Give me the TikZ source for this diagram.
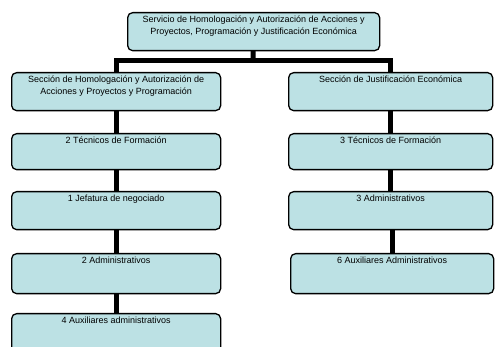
\documentclass[tikz,border=0pt]{standalone}
\usepackage{fontspec}
\setmainfont{Liberation Sans}
\usetikzlibrary{backgrounds}
\definecolor{boxblue}{RGB}{188,225,228}
\newcommand{\boxtext}[3]{\parbox[c][#2pt][t]{#1pt}{\centering\vspace*{3pt}#3\par}}
\tikzset{
  orgbox/.style={draw=black, line width=1.3pt, rounded corners=5pt, fill=boxblue,
    inner sep=0pt, anchor=north west, font=\fontsize{9}{12.5}\selectfont},
  conn/.style={line width=5pt, black}
}
\begin{document}
\begin{tikzpicture}[x=1pt,y=-1pt]
\useasboundingbox (0,0) rectangle (496,347);
\begin{scope}
\clip (0,0) rectangle (496,347);
% boxes
\node[orgbox] (top) at (127,12) {\boxtext{252}{38}{Servicio de Homologación y Autorización de Acciones y\\Proyectos, Programación y Justificación Económica}};
\node[orgbox] (L1) at (11,72) {\boxtext{209}{38}{Sección de Homologación y Autorización de\\Acciones y Proyectos y Programación}};
\node[orgbox] (L2) at (11,133) {\boxtext{209}{36}{2 Técnicos de Formación}};
\node[orgbox] (L3) at (11,191) {\boxtext{209}{38}{1 Jefatura de negociado}};
\node[orgbox] (L4) at (11,253) {\boxtext{209}{40}{2 Administrativos}};
\node[orgbox] (L5) at (11,313) {\boxtext{209}{40}{4 Auxiliares administrativos}};
\node[orgbox] (R1) at (288,72) {\boxtext{204}{38}{Sección de Justificación Económica}};
\node[orgbox] (R2) at (288,133) {\boxtext{204}{36}{3 Técnicos de Formación}};
\node[orgbox] (R3) at (288,191) {\boxtext{204}{38}{3 Administrativos}};
\node[orgbox] (R4) at (290,253) {\boxtext{203}{40}{6 Auxiliares Administrativos}};
\coordinate (hub) at (253,61);
% connectors (behind boxes)
\begin{pgfonlayer}{background}
\draw[conn] (top.center) -- (hub);
\draw[conn] (L1.center) |- (hub) -| (R1.center);
\draw[conn] (L1.center) -- (L2.center);
\draw[conn] (L2.center) -- (L3.center);
\draw[conn] (L3.center) -- (L4.center);
\draw[conn] (L4.center) -- (L5.center);
\draw[conn] (R1.center) -- (R2.center);
\draw[conn] (R2.center) -- (R3.center);
\draw[conn] (R3.center) -- (R4.center |- R3.center) -- (R4.center);
\end{pgfonlayer}
\end{scope}
\end{tikzpicture}
\end{document}
